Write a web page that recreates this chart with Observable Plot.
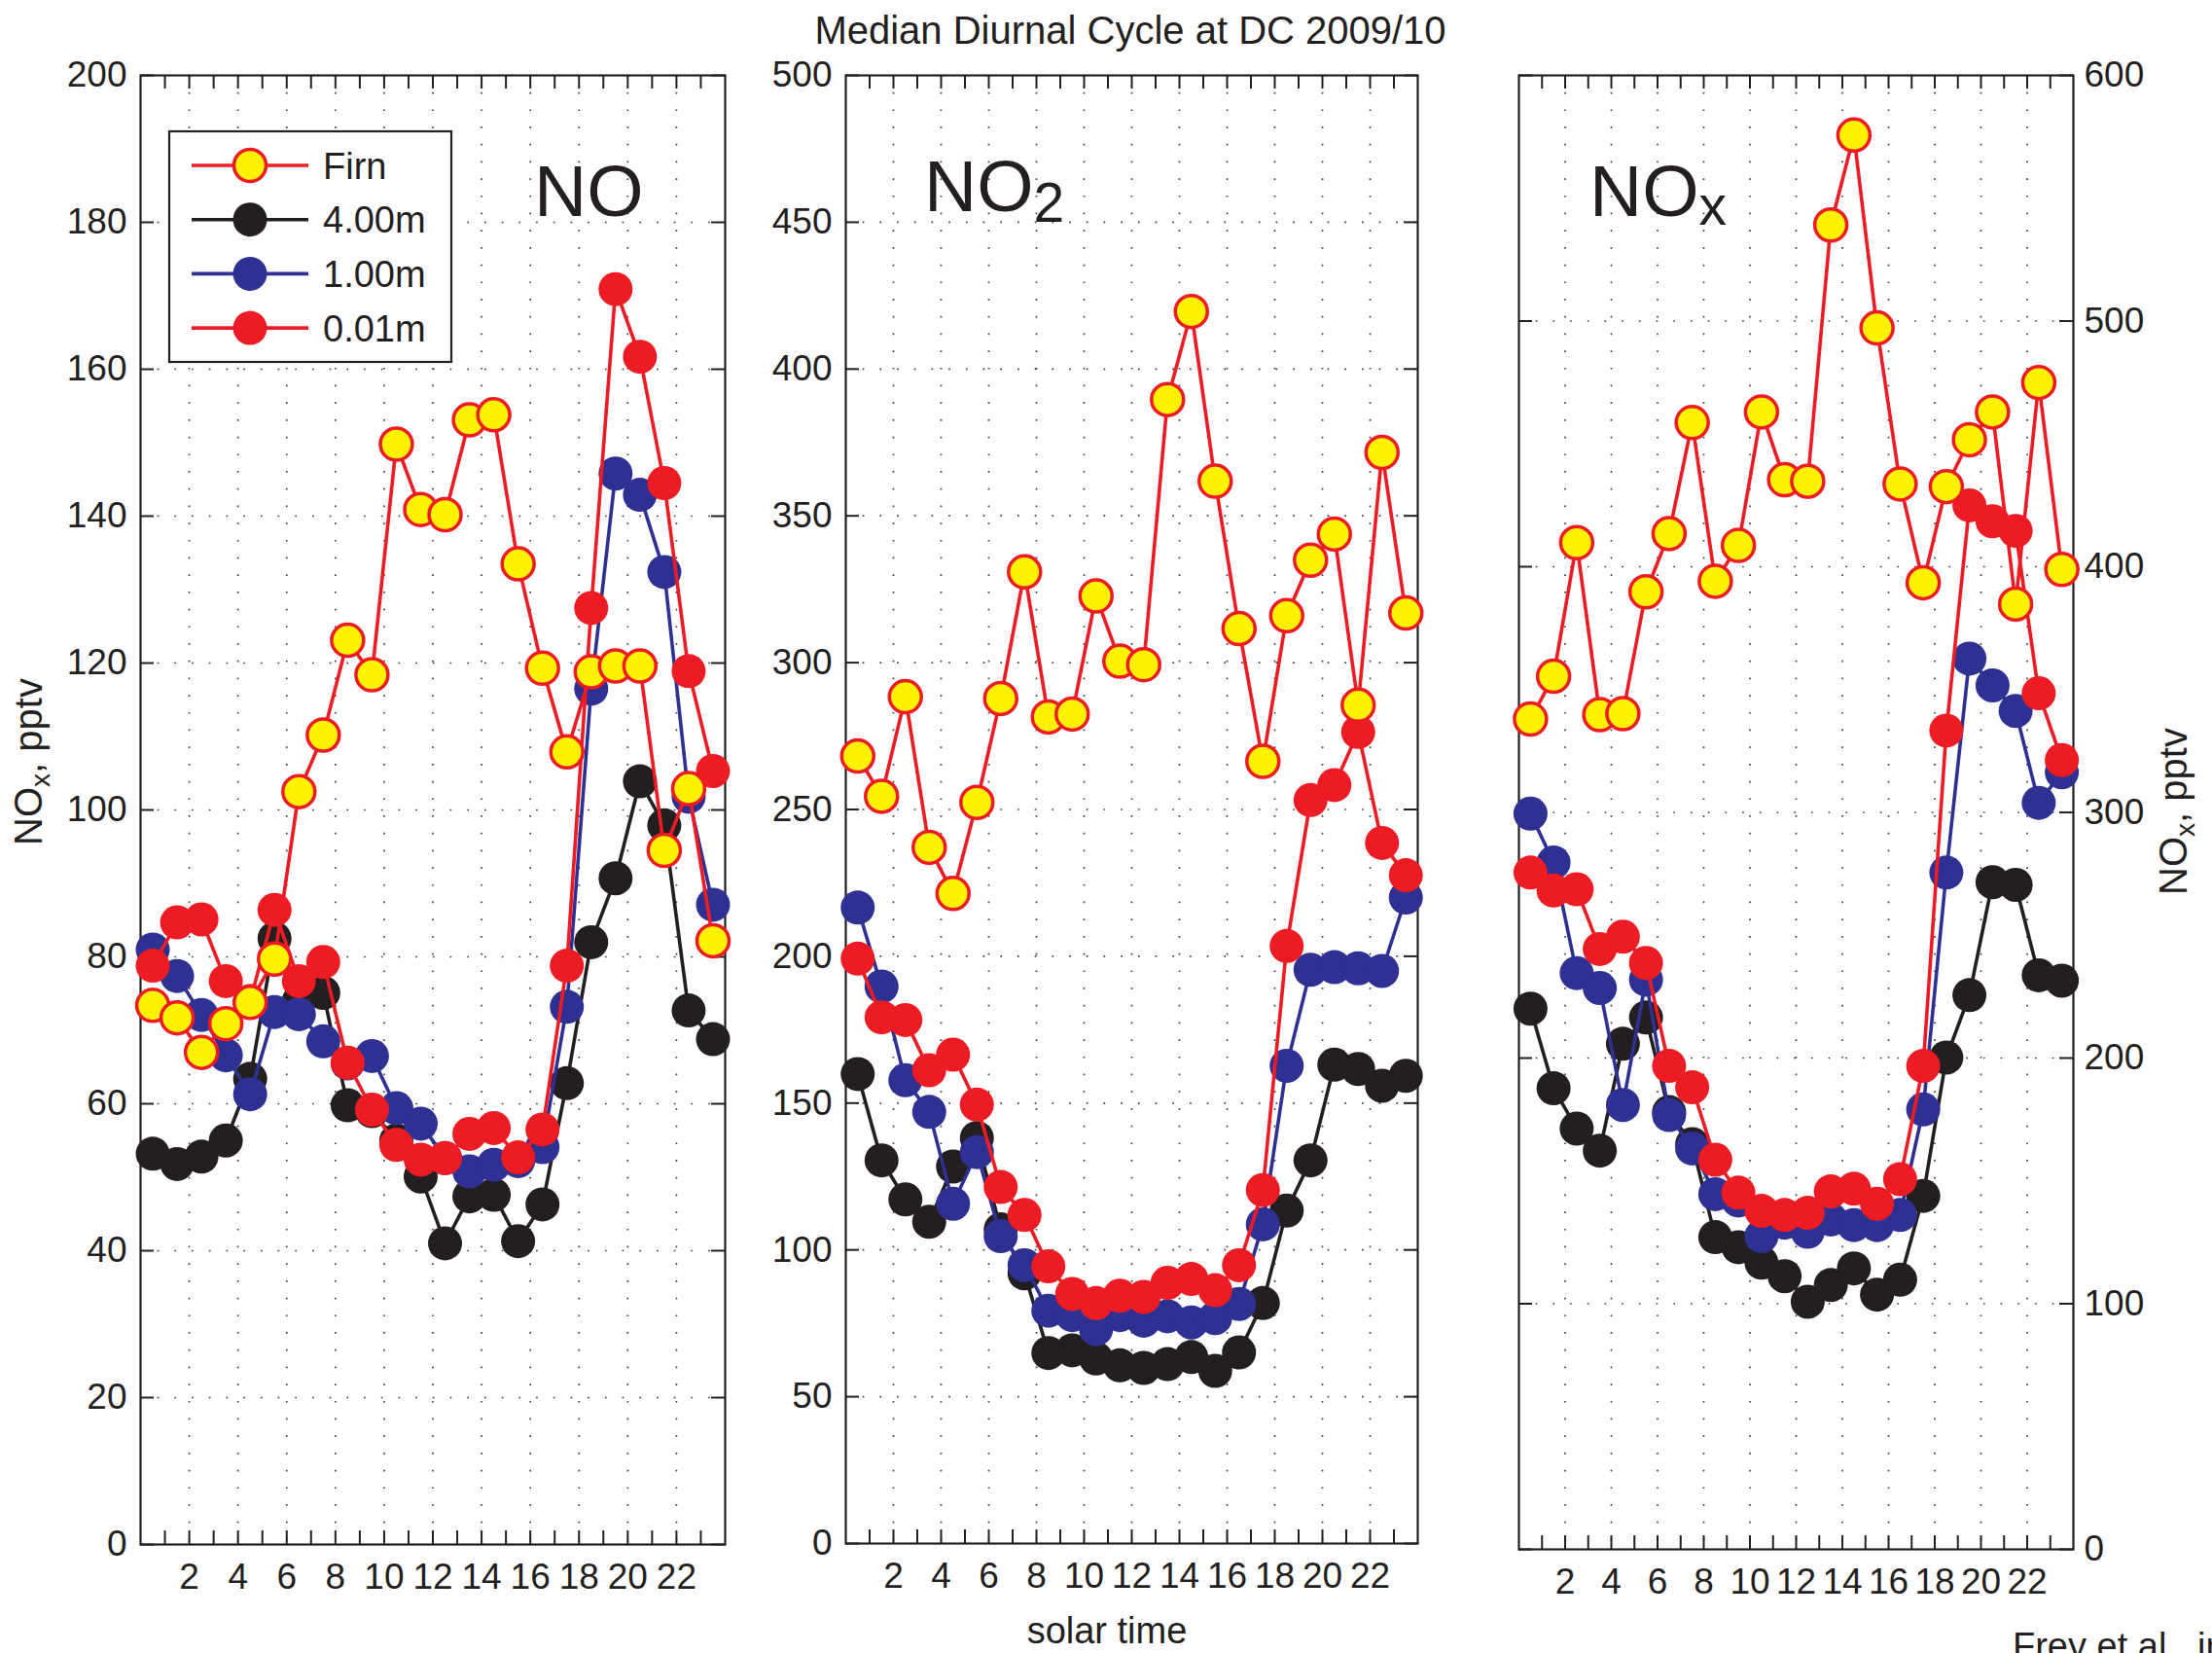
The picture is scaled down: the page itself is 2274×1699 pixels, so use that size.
<!DOCTYPE html>
<html>
<head>
<meta charset="utf-8">
<script src="https://cdn.jsdelivr.net/npm/d3@7"></script>
<script src="https://cdn.jsdelivr.net/npm/@observablehq/plot@0.6"></script>
<style>
  html, body { margin: 0; padding: 0; background: #fff; }
  #wrap { position: relative; width: 2274px; height: 1699px; overflow: hidden; background: #fff;
          font-family: "Liberation Sans", Arial, Helvetica, sans-serif; color: #231f20; }
  #wrap svg { position: absolute; top: 0; max-width: none; }
</style>
</head>
<body>
<div id="wrap"></div>
<script>
// ---------- data ----------
const hours = [0.5, 1.5, 2.5, 3.5, 4.5, 5.5, 6.5, 7.5, 8.5, 9.5, 10.5, 11.5,
               12.5, 13.5, 14.5, 15.5, 16.5, 17.5, 18.5, 19.5, 20.5, 21.5, 22.5, 23.5];
const hourTicks = [1, 2, 3, 4, 5, 6, 7, 8, 9, 10, 11, 12, 13, 14, 15, 16, 17, 18, 19, 20, 21, 22, 23];
const hourLabels = [2, 4, 6, 8, 10, 12, 14, 16, 18, 20, 22];

const seriesLabels = ["Firn", "4.00m", "1.00m", "0.01m"];

// NO (pptv)
const noFirn = [73.4, 71.7, 67.0, 70.9, 73.8, 79.7, 102.5, 110.2, 123.1, 118.4, 149.8, 140.9,
                140.2, 153.1, 153.8, 133.5, 119.3, 107.9, 118.8, 119.6, 119.6, 94.5, 102.9, 82.2];
const no400 = [53.2, 51.8, 52.8, 55.0, 63.4, 82.5, 74.0, 75.1, 59.8, 59.0, 55.0, 50.1,
               41.0, 47.4, 47.6, 41.3, 46.3, 62.8, 82.0, 90.7, 103.9, 97.9, 72.7, 68.8];
const no100 = [81.0, 77.4, 72.1, 66.6, 61.3, 72.5, 72.2, 68.5, 65.5, 66.5, 59.4, 57.3,
               52.6, 50.8, 51.7, 52.2, 54.1, 73.2, 116.5, 145.8, 142.9, 132.4, 101.8, 87.1];
const no001 = [78.8, 84.7, 85.1, 76.7, 74.0, 86.4, 76.7, 79.3, 65.6, 59.2, 54.4, 52.4,
               52.6, 55.9, 56.7, 52.7, 56.5, 78.8, 127.5, 170.9, 161.7, 144.5, 118.9, 105.3];
const noTicks = [0, 20, 40, 60, 80, 100, 120, 140, 160, 180, 200];

// NO2 (pptv)
const no2Firn = [268.2, 254.5, 288.4, 237.1, 221.4, 252.4, 287.8, 330.9, 281.5, 282.5, 322.7, 300.5,
                 299.3, 389.6, 419.6, 361.8, 311.6, 266.4, 316.0, 334.9, 343.8, 285.5, 371.6, 316.9];
const no2400 = [159.9, 130.5, 117.2, 109.6, 128.4, 138.1, 107.0, 92.0, 64.9, 65.8, 63.0, 60.7,
                59.8, 61.1, 63.5, 58.8, 65.1, 81.9, 113.4, 130.5, 163.1, 161.6, 155.9, 159.3];
const no2100 = [216.6, 189.7, 157.8, 147.0, 115.7, 133.3, 104.7, 94.8, 79.3, 77.8, 73.0, 77.8,
                75.9, 77.4, 75.3, 76.8, 81.6, 108.7, 162.7, 195.4, 196.3, 195.9, 195.0, 220.0];
const no2001 = [199.2, 179.2, 178.3, 161.2, 166.5, 149.5, 121.4, 111.9, 94.4, 85.0, 81.9, 84.4,
                84.0, 88.8, 90.1, 86.3, 94.8, 120.4, 203.5, 253.2, 258.3, 276.4, 238.6, 227.6];
const no2Ticks = [0, 50, 100, 150, 200, 250, 300, 350, 400, 450, 500];

// NOx (pptv)
const noxFirn = [338.0, 355.4, 409.8, 339.8, 340.2, 389.8, 413.5, 458.7, 394.1, 408.7, 463.0, 435.4,
                 434.8, 539.1, 575.7, 497.2, 433.7, 393.5, 432.6, 451.7, 463.0, 384.8, 475.0, 398.9];
const nox400 = [220.1, 187.7, 171.3, 162.3, 205.8, 216.5, 178.0, 165.0, 127.1, 123.0, 116.7, 111.2,
                100.8, 107.6, 114.4, 103.7, 109.8, 143.9, 200.2, 225.6, 271.6, 270.5, 233.7, 231.5];
const nox100 = [299.5, 279.6, 234.6, 228.5, 180.9, 231.9, 176.8, 163.2, 144.6, 142.0, 127.5, 133.0,
                129.3, 134.3, 132.0, 132.0, 136.1, 179.1, 275.5, 362.6, 351.7, 341.3, 303.9, 316.3];
const nox001 = [275.5, 268.2, 268.7, 244.4, 249.4, 238.7, 196.8, 188.1, 158.6, 145.2, 137.8, 136.1,
                137.0, 145.7, 146.8, 140.7, 150.7, 196.8, 333.3, 425.0, 418.5, 414.6, 348.5, 321.3];
const noxTicks = [0, 100, 200, 300, 400, 500, 600];

// ---------- styles ----------
const ink = "#231f20";
const RED = "#ed1c24", YEL = "#fff200", BLUE = "#2e3192", BLACK = "#231f20";
const FONT = '"Liberation Sans", Arial, Helvetica, sans-serif';
const seriesStyle = {
  "Firn":  {line: RED,   fill: YEL,   stroke: RED},
  "4.00m": {line: BLACK, fill: BLACK, stroke: "none"},
  "1.00m": {line: BLUE,  fill: BLUE,  stroke: "none"},
  "0.01m": {line: RED,   fill: RED,   stroke: "none"}
};
const drawOrder = ["4.00m", "1.00m", "0.01m", "Firn"];

const rows = arr => hours.map((h, i) => ({h, v: arr[i]}));

function makePanel(cfg) {
  const {series, yTicks, left, right, top, bottom, svgLeft, svgWidth, axis} = cfg;
  const yMax = yTicks[yTicks.length - 1];
  const W = right - left, H = bottom - top;
  const tly = yMax * 14 / H, tlx = 24 * 14 / W;
  const tickStyle = {stroke: ink, strokeWidth: 2};
  const gridStyle = {stroke: ink, strokeWidth: 1.7, strokeDasharray: "1.7,16", strokeOpacity: 0.85};
  const marks = [
    Plot.ruleX(hourLabels, {x: d => d, ...gridStyle}),
    Plot.ruleY(yTicks.slice(1, -1), {y: d => d, ...gridStyle}),
    Plot.ruleX(hourTicks, {x: d => d, y1: () => 0, y2: () => tly, ...tickStyle}),
    Plot.ruleX(hourTicks, {x: d => d, y1: () => yMax - tly, y2: () => yMax, ...tickStyle}),
    Plot.ruleY(yTicks, {y: d => d, x1: () => 0, x2: () => tlx, ...tickStyle}),
    Plot.ruleY(yTicks, {y: d => d, x1: () => 24 - tlx, x2: () => 24, ...tickStyle}),
    Plot.frame({stroke: ink, strokeWidth: 2.2})
  ];
  for (const name of drawOrder) {
    const st = seriesStyle[name];
    const d = rows(series[name]);
    marks.push(Plot.line(d, {x: "h", y: "v", stroke: st.line, strokeWidth: 3.6}));
    if (name === "Firn") {
      marks.push(Plot.dot(d, {x: "h", y: "v", r: 16.5, fill: st.fill, stroke: st.stroke, strokeWidth: 3.5}));
    } else {
      marks.push(Plot.dot(d, {x: "h", y: "v", r: 17.5, fill: st.fill, stroke: "none"}));
    }
  }
  const marginLeft = left - svgLeft;
  const marginRight = svgLeft + svgWidth - right;
  const svg = Plot.plot({
    width: svgWidth,
    height: 1699,
    marginLeft, marginRight,
    marginTop: top,
    marginBottom: 1699 - bottom,
    style: {background: "transparent", fontSize: "37px", fontFamily: FONT, color: ink, overflow: "visible"},
    x: {domain: [0, 24], ticks: hourLabels, tickSize: 0, tickPadding: 19, label: null},
    y: {domain: [0, yMax], ticks: yTicks, tickSize: 0, tickPadding: axis === "left" ? 14 : 11, label: null, axis},
    marks
  });
  svg.style.position = "absolute";
  svg.style.left = svgLeft + "px";
  svg.style.top = "0px";
  svg.style.maxWidth = "none";
  svg.style.overflow = "visible";
  return svg;
}

const wrap = document.getElementById("wrap");

wrap.appendChild(makePanel({
  series: {"Firn": noFirn, "4.00m": no400, "1.00m": no100, "0.01m": no001},
  yTicks: noTicks, left: 144, right: 745, top: 77, bottom: 1587,
  svgLeft: 0, svgWidth: 760, axis: "left"
}));
wrap.appendChild(makePanel({
  series: {"Firn": no2Firn, "4.00m": no2400, "1.00m": no2100, "0.01m": no2001},
  yTicks: no2Ticks, left: 869, right: 1457, top: 77, bottom: 1586,
  svgLeft: 769, svgWidth: 703, axis: "left"
}));
wrap.appendChild(makePanel({
  series: {"Firn": noxFirn, "4.00m": nox400, "1.00m": nox100, "0.01m": nox001},
  yTicks: noxTicks, left: 1561, right: 2131, top: 77, bottom: 1592,
  svgLeft: 1500, svgWidth: 774, axis: "right"
}));

// ---------- overlay: titles, labels, legend ----------
const legendRows = seriesLabels.map((name, i) => {
  const st = seriesStyle[name];
  const y = 170 + i * 55.7;
  return `<line x1="197" x2="317" y1="${y}" y2="${y}" stroke="${st.line}" stroke-width="3.6"/>
          <circle cx="257" cy="${y}" r="${name === "Firn" ? 16.5 : 17.5}" fill="${st.fill}" stroke="${st.stroke}" stroke-width="${name === "Firn" ? 3.5 : 0}"/>
          <text x="332" y="${y + 13.5}" font-size="38">${name}</text>`;
}).join("");

const overlay = `
<svg width="2274" height="1699" style="position:absolute;left:0;top:0;overflow:hidden" font-family='${FONT}' fill="${ink}">
  <text x="1162" y="45" font-size="40" text-anchor="middle">Median Diurnal Cycle at DC 2009/10</text>
  <rect x="174" y="135" width="290" height="237" fill="#fff" stroke="${ink}" stroke-width="2.2"/>
  ${legendRows}
  <text x="549" y="222" font-size="75">NO</text>
  <text x="950" y="217" font-size="75">NO<tspan font-size="57" dy="11">2</tspan></text>
  <text x="1634" y="222" font-size="75">NO<tspan font-size="57" dy="9">x</tspan></text>
  <text transform="translate(43,783) rotate(-90)" font-size="40" text-anchor="middle">NO<tspan font-size="28" dy="8">x</tspan><tspan dy="-8">, pptv</tspan></text>
  <text transform="translate(2248,834) rotate(-90)" font-size="40" text-anchor="middle">NO<tspan font-size="28" dy="8">x</tspan><tspan dy="-8">, pptv</tspan></text>
  <text x="1138" y="1689" font-size="38" text-anchor="middle">solar time</text>
  <text x="2069" y="1705" font-size="38">Frey et al., in prep.</text>
</svg>`;
wrap.insertAdjacentHTML("beforeend", overlay);
</script>
</body>
</html>
